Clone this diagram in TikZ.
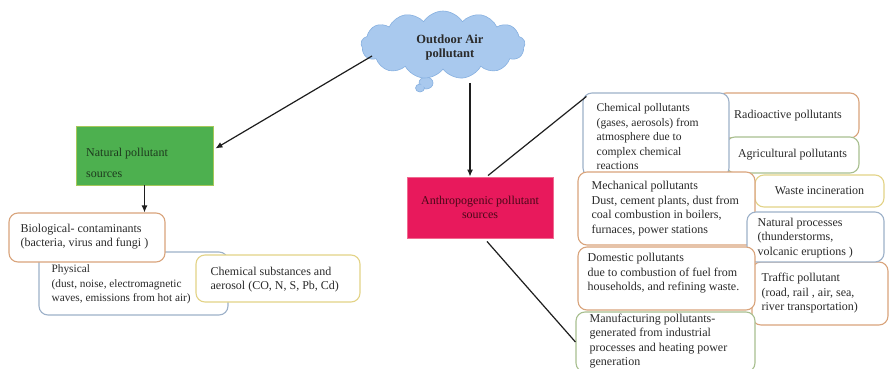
\documentclass[tikz,border=0pt]{standalone}
\usepackage{fontspec}
\setmainfont{Liberation Serif}
\usetikzlibrary{shapes.symbols,arrows.meta,calc}
\definecolor{cloudfill}{HTML}{A9C9EE}
\definecolor{clouddraw}{HTML}{86B0E0}
\definecolor{greenfill}{HTML}{4DB04F}
\definecolor{greendraw}{HTML}{A6C85A}
\definecolor{pinkfill}{HTML}{E8195C}
\definecolor{pinkdraw}{HTML}{F06A90}
\definecolor{pinktext}{HTML}{4A0818}
\definecolor{greentext}{HTML}{1E3A1E}
\definecolor{txt}{HTML}{2A2A2A}
\definecolor{bdorange}{HTML}{D9A47C}
\definecolor{bdblue}{HTML}{9DB1C9}
\definecolor{bdyellow}{HTML}{E3D387}
\definecolor{bdgreen}{HTML}{A8BF8F}
\definecolor{linec}{HTML}{1E1E1E}
\begin{document}
\begin{tikzpicture}[x=1pt,y=-1pt,
  every node/.style={font=\fontsize{12}{14.5}\selectfont},
  box/.style={draw, rounded corners=9pt, fill=white, line width=1.1pt,
    text=txt, align=center, inner sep=0pt},
  tx/.style={anchor=west, align=left, inner sep=0pt, text=txt},
  arr/.style={draw=linec, line width=1.2pt, -{Latex[length=7pt,width=6pt]}},
  lnk/.style={draw=linec, line width=1.2pt}]
\clip (0,0) rectangle (889,369);
\fill[white] (0,0) rectangle (889,369);

% cloud
\fill[cloudfill, draw=clouddraw, line width=0.6pt] (426,83) ellipse [x radius=7, y radius=6];
\fill[cloudfill, draw=clouddraw, line width=0.6pt] (420,88) ellipse [x radius=4.5, y radius=4];
\node[cloud, cloud puffs=13, cloud puff arc=115, cloud ignores aspect,
  minimum width=164pt, minimum height=68pt, fill=cloudfill, draw=clouddraw,
  line width=0.6pt] (cloud) at (443,45) {};
\fill[cloudfill] (426,83) ellipse [x radius=5.5, y radius=4.5];
\node[align=center, text=txt, inner sep=0pt,
  font=\fontsize{12.5}{14}\selectfont\bfseries] (cloudtxt) at (450,47) {Outdoor Air\\pollutant};

% main category boxes
\node[draw=greendraw, fill=greenfill, line width=0.9pt, minimum width=137pt, minimum height=59pt] (green) at (144.5,155.5) {};
\node[anchor=west, text=greentext, align=left, inner sep=0pt, font=\fontsize{12}{21}\selectfont] (greentxt) at (86,163) {Natural pollutant\\sources};
\node[draw=pinkdraw, fill=pinkfill, line width=0.9pt, minimum width=146pt, minimum height=61pt, text=pinktext, align=center] (pink) at (480,207.5) {Anthropogenic pollutant\\sources};

% left boxes
\node[box, draw=bdblue, minimum width=189pt, minimum height=63pt] (phys) at (133.5,283.5) {};
\node[tx, font=\fontsize{11.3}{14.3}\selectfont] (physt) at ($(phys.west)+(13,1)$) {Physical\\(dust, noise, electromagnetic\\waves, emissions from hot air)};
\node[box, draw=bdorange, minimum width=156pt, minimum height=49pt] (bio) at (87,237.5) {};
\node[tx] (biot) at ($(bio.west)+(12,-1)$) {Biological- contaminants\\(bacteria, virus and fungi )};
\node[box, draw=bdyellow, minimum width=164pt, minimum height=47pt] (chemsub) at (278,278.5) {};
\node[tx] (chemsubt) at ($(chemsub.west)+(15,1)$) {Chemical substances and\\aerosol (CO, N, S, Pb, Cd)};

% right boxes
\node[box, draw=bdorange, minimum width=142pt, minimum height=45pt] (radio) at (788,115.5) {Radioactive pollutants};
\node[box, draw=bdgreen, minimum width=133pt, minimum height=36pt] (agri) at (792.5,155) {Agricultural pollutants};
\node[box, draw=bdblue, minimum width=146pt, minimum height=84pt] (chempol) at (656,135) {};
\node[tx, font=\fontsize{11.6}{14.5}\selectfont] (chempolt) at ($(chempol.west)+(14,2)$) {Chemical pollutants\\(gases, aerosols) from\\atmosphere due to\\complex chemical\\reactions};
\node[box, draw=bdyellow, minimum width=129pt, minimum height=32pt] (waste) at (819.5,191) {Waste incineration};
\node[box, draw=bdorange, minimum width=177pt, minimum height=73pt] (mech) at (666.5,208.5) {};
\node[tx] (mecht) at ($(mech.west)+(14,0)$) {Mechanical pollutants\\Dust, cement plants, dust from\\coal combustion in boilers,\\furnaces, power stations};
\node[box, draw=bdorange, minimum width=136pt, minimum height=63pt] (traffic) at (820,293.5) {};
\node[tx] (traffict) at ($(traffic.west)+(10,0)$) {Traffic pollutant\\(road, rail , air, sea,\\river transportation)};
\node[box, draw=bdblue, minimum width=137pt, minimum height=50pt] (natproc) at (815.5,237) {};
\node[tx] (natproct) at ($(natproc.west)+(11,1)$) {Natural processes\\(thunderstorms,\\volcanic eruptions )};
\node[box, draw=bdorange, minimum width=177pt, minimum height=63pt] (domestic) at (666.5,278.5) {};
\node[tx] (domestict) at ($(domestic.west)+(10,-5)$) {Domestic pollutants\\due to combustion of fuel from\\households, and refining waste.};
\node[box, draw=bdgreen, minimum width=179pt, minimum height=60pt] (manuf) at (665.5,342) {};
\node[tx] (manuft) at ($(manuf.west)+(14,-1)$) {Manufacturing pollutants-\\generated from industrial\\processes and heating power\\generation};

% connectors
\coordinate (cl1) at (372,56);
\coordinate (cl2) at (470,83);
\draw[arr] (cl1) -- ($(green.east)+(2,-7)$);
\draw[arr] (cl2) -- (cl2 |- pink.north);
\draw[arr] (green.south) -- (green.south |- bio.north);
\draw[lnk] ($(pink.north)+(8,-1)$) -- ($(chempol.north west)+(4,4)$);
\draw[lnk] ($(pink.south)+(7,3)$) -- (manuf.west);
\end{tikzpicture}
\end{document}
